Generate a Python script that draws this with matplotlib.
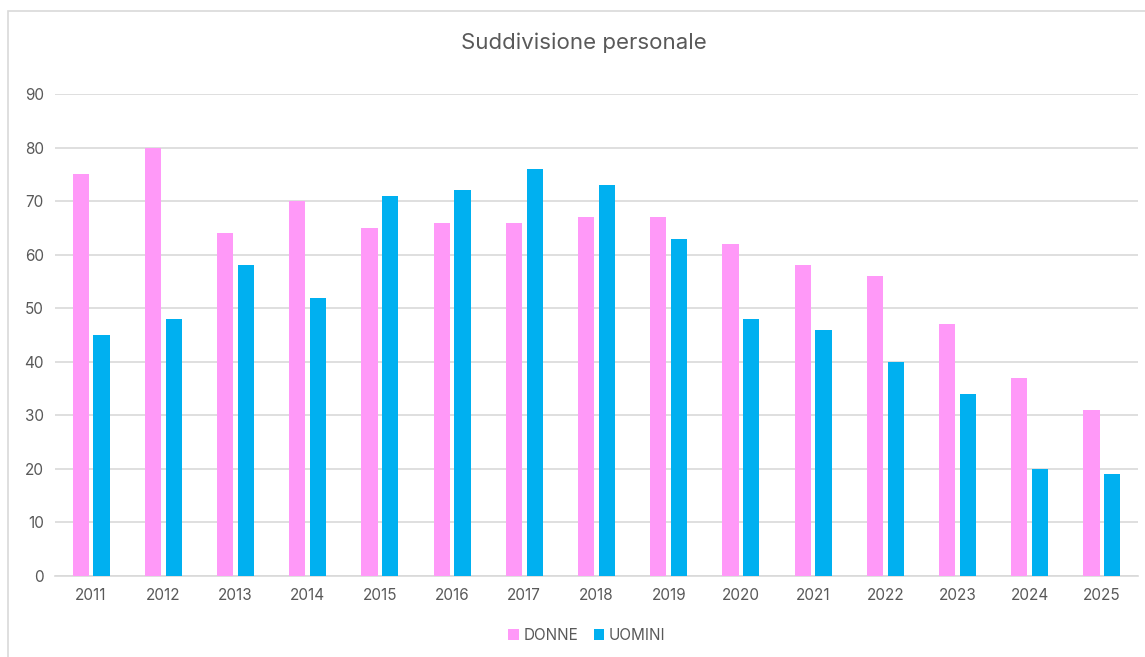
import numpy as np
import matplotlib.pyplot as plt
from matplotlib.patches import Rectangle

anni = ['2011', '2012', '2013', '2014', '2015', '2016', '2017', '2018',
        '2019', '2020', '2021', '2022', '2023', '2024', '2025']
donne = [75, 80, 64, 70, 65, 66, 66, 67, 67, 62, 58, 56, 47, 37, 31]
uomini = [45, 48, 58, 52, 71, 72, 76, 73, 63, 48, 46, 40, 34, 20, 19]

plt.rcParams['font.family'] = ['Inter', 'DejaVu Sans']
grigio = '#595959'

fig = plt.figure(figsize=(11.45, 6.57), dpi=100)
# chart border
fig.patches.append(Rectangle((8 / 1145, -0.01), 1.05, 1 - 11 / 657 + 0.01,
                             transform=fig.transFigure, fill=False,
                             edgecolor='#D9D9D9', linewidth=1.2))

ax = fig.add_axes([55 / 1145, 81 / 657, 1083 / 1145, 482 / 657])
x = np.arange(len(anni))
w = 0.225
ax.bar(x - 0.143, donne, w, color='#FF99F8', label='DONNE', zorder=3)
ax.bar(x + 0.143, uomini, w, color='#00B0F0', label='UOMINI', zorder=3)

ax.set_xlim(-0.5, len(anni) - 0.5)
ax.set_ylim(0, 90)
ax.set_yticks(range(0, 91, 10))
ax.set_xticks(x)
ax.set_xticklabels(anni)
ax.yaxis.grid(True, color='#D9D9D9', linewidth=1.2, zorder=0)
for s in ['top', 'right', 'left']:
    ax.spines[s].set_visible(False)
ax.spines['bottom'].set_color('#D9D9D9')
ax.spines['bottom'].set_linewidth(1.2)
ax.tick_params(length=0, colors=grigio, labelsize=11)
ax.tick_params(axis='y', pad=8)
ax.tick_params(axis='x', pad=9)

fig.text(584 / 1145, 1 - 43 / 657, 'Suddivisione personale', ha='center',
         va='center', fontsize=16, color=grigio)

fig.legend(loc='center', bbox_to_anchor=(587 / 1145, 1 - 635 / 657), ncol=2,
           frameon=False, fontsize=11, labelcolor=grigio, handlelength=0.7,
           handleheight=0.7, handletextpad=0.3, columnspacing=1.0)

fig.savefig('out.png', dpi=100)
